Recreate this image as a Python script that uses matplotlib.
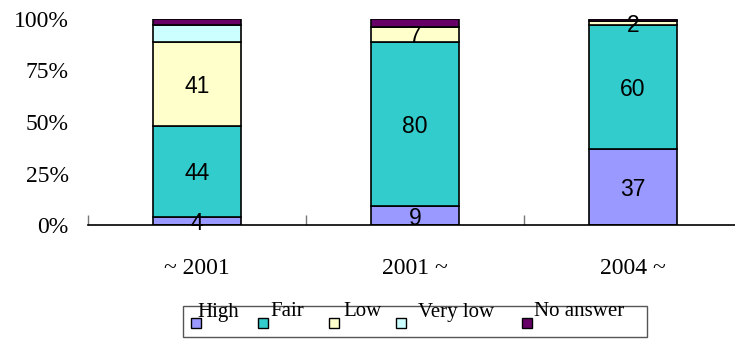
import matplotlib.pyplot as plt
from matplotlib.patches import Rectangle

categories = ["~ 2001", "2001 ~", "2004 ~"]
series = ["High", "Fair", "Low", "Very low", "No answer"]
high = [4, 9, 37]
fair = [44, 80, 60]
low = [41, 7, 2]
very_low = [8, 0, 0]
no_answer = [3, 4, 1]
# which segments get a number printed inside
labelled = ["High", "Fair", "Low"]

colors = ["#9999FF", "#33CCCC", "#FFFFCC", "#CCFFFF", "#660066"]
SERIF = ["Liberation Serif", "DejaVu Serif"]
SANS = ["Liberation Sans", "DejaVu Sans"]

fig = plt.figure(figsize=(7.35, 3.39), dpi=100)
W, H = 735, 339
# axes in pixel terms: x 88..742, y 19..225 (from top)
ax = fig.add_axes([88 / W, (H - 225) / H, (742 - 88) / W, (225 - 19) / H])

values = [high, fair, low, very_low, no_answer]
x = list(range(len(categories)))
bottom = [0] * len(categories)
for name, vals, col in zip(series, values, colors):
    bars = ax.bar(x, vals, width=0.4, bottom=bottom, color=col,
                  edgecolor="black", linewidth=1.2, zorder=2)
    if name in labelled:
        for b, v, b0 in zip(bars, vals, bottom):
            if v > 0:
                ax.text(b.get_x() + b.get_width() / 2, b0 + v / 2, str(v),
                        ha="center", va="center_baseline", fontsize=16.5,
                        family=SANS, zorder=5, clip_on=False)
    bottom = [b0 + v for b0, v in zip(bottom, vals)]

ax.set_xlim(-0.5, 2.5)
ax.set_ylim(0, 100)
ax.set_yticks([0, 25, 50, 75, 100])
ax.set_yticklabels(["0%", "25%", "50%", "75%", "100%"], family=SERIF,
                   fontsize=17)
ax.tick_params(axis="y", length=0, pad=14)

ax.set_xticks(x)
ax.set_xticklabels(categories, family=SERIF, fontsize=17)
ax.tick_params(axis="x", which="major", length=0, pad=24)
ax.set_xticks([-0.5, 0.5, 1.5], minor=True)
ax.tick_params(axis="x", which="minor", direction="in", length=7,
               color="#777777", width=1)

for s in ["top", "right", "left"]:
    ax.spines[s].set_visible(False)
ax.spines["bottom"].set_linewidth(1.2)

# legend, laid out by hand to match the original spacing
fig.patches.append(Rectangle((183 / W, (H - 337) / H), (647 - 183) / W,
                             31 / H, transform=fig.transFigure,
                             facecolor="none", edgecolor="#555555",
                             linewidth=1))
patch_x = [191, 258, 329, 396, 522]
text_x = [197, 270, 343, 418, 534]
for name, col, px, tx in zip(series, colors, patch_x, text_x):
    fig.patches.append(Rectangle((px / W, (H - 328) / H), 10 / W, 10 / H,
                                 transform=fig.transFigure, facecolor=col,
                                 edgecolor="black", linewidth=1))
    fig.text(tx / W, (H - 312) / H, name, family=SERIF, fontsize=15,
             ha="left", va="center")

fig.savefig("out.png", dpi=100)
